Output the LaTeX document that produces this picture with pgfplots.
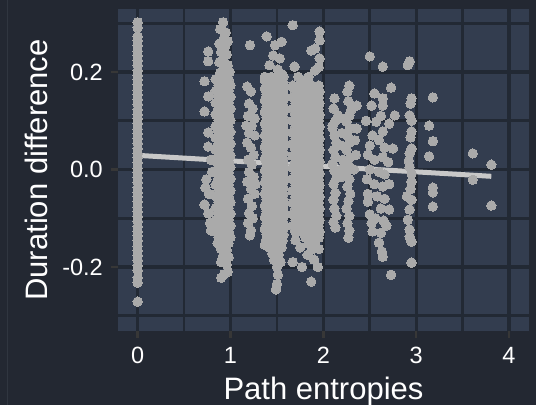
\documentclass[border=0pt]{standalone}
\usepackage{fontspec}
\setmainfont{Liberation Sans}
\usepackage{pgfplots}
\pgfplotsset{compat=1.18}
\usepackage{pgfplotstable}
\definecolor{bgc}{RGB}{35,40,50}
\definecolor{panelc}{RGB}{51,61,79}
\definecolor{gridc}{RGB}{34,41,52}
\definecolor{ptc}{RGB}{170,170,170}
\definecolor{linec}{RGB}{200,200,200}
\definecolor{tickc}{RGB}{55,55,55}
\definecolor{edgec}{RGB}{48,54,64}

\pgfplotstableread{
y a b c
0.185 0.84 0.91 0.98
0.173 0.87 0.94 1.00
0.161 0.84 0.91 0.98
0.149 0.87 0.94 1.00
0.137 0.84 0.91 0.98
0.125 0.87 0.94 1.00
0.113 0.84 0.91 0.98
0.101 0.87 0.94 1.00
0.089 0.84 0.91 0.98
0.077 0.87 0.94 1.00
0.065 0.84 0.91 0.98
0.053 0.87 0.94 1.00
0.041 0.84 0.91 0.98
0.029 0.87 0.94 1.00
0.017 0.84 0.91 0.98
0.005 0.87 0.94 1.00
-0.007 0.84 0.91 0.98
-0.019 0.87 0.94 1.00
-0.031 0.84 0.91 0.98
-0.043 0.87 0.94 1.00
-0.055 0.84 0.91 0.98
-0.067 0.87 0.94 1.00
-0.079 0.84 0.91 0.98
-0.091 0.87 0.94 1.00
-0.103 0.84 0.91 0.98
-0.115 0.87 0.94 1.00
-0.127 0.84 0.91 0.98
-0.139 0.87 0.94 1.00
-0.151 0.86 0.92 0.98
}\colone

\pgfplotstableread{
y a b c d
0.190 1.37 1.44 1.51 1.57
0.178 1.39 1.46 1.53 1.57
0.166 1.37 1.44 1.51 1.57
0.154 1.39 1.46 1.53 1.57
0.142 1.37 1.44 1.51 1.57
0.130 1.39 1.46 1.53 1.57
0.118 1.37 1.44 1.51 1.57
0.106 1.39 1.46 1.53 1.57
0.094 1.37 1.44 1.51 1.57
0.082 1.39 1.46 1.53 1.57
0.070 1.37 1.44 1.51 1.57
0.058 1.39 1.46 1.53 1.57
0.046 1.37 1.44 1.51 1.57
0.034 1.39 1.46 1.53 1.57
0.022 1.37 1.44 1.51 1.57
0.010 1.39 1.46 1.53 1.57
-0.002 1.37 1.44 1.51 1.57
-0.014 1.39 1.46 1.53 1.57
-0.026 1.37 1.44 1.51 1.57
-0.038 1.39 1.46 1.53 1.57
-0.050 1.37 1.44 1.51 1.57
-0.062 1.39 1.46 1.53 1.57
-0.074 1.37 1.44 1.51 1.57
-0.086 1.39 1.46 1.53 1.57
-0.098 1.37 1.44 1.51 1.57
-0.110 1.39 1.46 1.53 1.57
-0.122 1.37 1.44 1.51 1.57
-0.134 1.39 1.46 1.53 1.57
-0.146 1.38 1.44 1.50 1.56
}\cola

\pgfplotstableread{
y a b c d e
0.172 1.67 1.74 1.81 1.88 1.95
0.160 1.70 1.77 1.84 1.91 1.96
0.148 1.67 1.74 1.81 1.88 1.95
0.136 1.70 1.77 1.84 1.91 1.96
0.124 1.67 1.74 1.81 1.88 1.95
0.112 1.70 1.77 1.84 1.91 1.96
0.100 1.67 1.74 1.81 1.88 1.95
0.088 1.70 1.77 1.84 1.91 1.96
0.076 1.67 1.74 1.81 1.88 1.95
0.064 1.70 1.77 1.84 1.91 1.96
0.052 1.67 1.74 1.81 1.88 1.95
0.040 1.70 1.77 1.84 1.91 1.96
0.028 1.67 1.74 1.81 1.88 1.95
0.016 1.70 1.77 1.84 1.91 1.96
0.004 1.67 1.74 1.81 1.88 1.95
-0.008 1.70 1.77 1.84 1.91 1.96
-0.020 1.67 1.74 1.81 1.88 1.95
-0.032 1.70 1.77 1.84 1.91 1.96
-0.044 1.67 1.74 1.81 1.88 1.95
-0.056 1.70 1.77 1.84 1.91 1.96
-0.068 1.67 1.74 1.81 1.88 1.95
-0.080 1.70 1.77 1.84 1.91 1.96
-0.092 1.67 1.74 1.81 1.88 1.95
-0.104 1.70 1.77 1.84 1.91 1.96
-0.116 1.67 1.74 1.81 1.88 1.95
-0.128 1.70 1.77 1.84 1.91 1.96
}\colb

\pgfplotsset{pts/.style={only marks, mark=*, color=ptc, mark size=4.7bp, mark options={draw=ptc, fill=ptc, line width=0pt}}}

\begin{document}
\begin{tikzpicture}
\fill[bgc] (0,0) rectangle (536bp,405bp);
\draw[edgec, line width=0.8bp] (7bp,0) -- (7bp,405bp);
\begin{axis}[
  at={(118bp,74bp)}, anchor=south west,
  scale only axis, width=411bp, height=322bp,
  xmin=-0.212, xmax=4.216, ymin=-0.3313, ymax=0.3292,
  axis background/.style={fill=panelc},
  axis line style={draw=none},
  xtick={0,1,2,3,4}, xticklabels={0,1,2,3,4},
  ytick={-0.2,0,0.2}, yticklabels={-0.2,0.0,0.2},
  minor xtick={0.5,1.5,2.5,3.5}, minor ytick={-0.3,-0.1,0.1,0.3},
  grid=both,
  major grid style={draw=gridc, line width=3.2bp},
  minor grid style={draw=gridc, line width=2.6bp},
  tick align=outside, major tick length=7bp, minor tick length=0pt,
  tick style={draw=tickc, line width=2.6bp},
  xtick pos=bottom, ytick pos=left,
  /pgf/number format/assume math mode=true,
  xticklabel style={font=\fontsize{23.5bp}{28bp}\selectfont, text=white, inner sep=0pt, anchor=north, yshift=-9bp},
  yticklabel style={font=\fontsize{23.5bp}{28bp}\selectfont, text=white, inner sep=0pt, anchor=east, xshift=-8bp},
  xlabel={Path entropies},
  ylabel={Duration difference},
  every axis x label/.style={at={(axis description cs:0.5,-0.2112)}, anchor=base, inner sep=0pt, font=\fontsize{31bp}{36bp}\selectfont, text=white},
  every axis y label/.style={at={(axis description cs:-0.1727,0.5)}, rotate=90, anchor=base, inner sep=0pt, font=\fontsize{31bp}{36bp}\selectfont, text=white},
]
% x = 0 column
\addplot[pts] coordinates {
(0,0.302)(0,0.291)(0,0.273)(0,0.264)(0,0.254)(0,0.243)(0,0.233)(0,0.224)(0,0.214)(0,0.203)
(0,0.193)(0,0.184)(0,0.174)(0,0.163)(0,0.153)(0,0.144)(0,0.134)(0,0.123)(0,0.113)(0,0.104)
(0,0.094)(0,0.083)(0,0.073)(0,0.064)(0,0.054)(0,0.043)(0,0.033)(0,0.024)(0,0.014)(0,0.003)
(0,-0.007)(0,-0.016)(0,-0.026)(0,-0.037)(0,-0.047)(0,-0.056)(0,-0.066)(0,-0.077)(0,-0.087)(0,-0.096)
(0,-0.106)(0,-0.117)(0,-0.127)(0,-0.136)(0,-0.146)(0,-0.157)(0,-0.167)(0,-0.176)(0,-0.186)(0,-0.197)
(0,-0.207)(0,-0.222)(0,-0.232)(0,-0.271)
};
% column near 1
\addplot[pts] table[x=a,y=y]{\colone};
\addplot[pts] table[x=b,y=y]{\colone};
\addplot[pts] table[x=c,y=y]{\colone};
\addplot[pts] coordinates {
(0.92,0.302)(0.89,0.288)(0.95,0.281)(0.93,0.270)(0.97,0.263)(0.88,0.258)(0.94,0.251)(0.90,0.241)
(0.96,0.236)(0.92,0.228)(0.88,0.220)(0.97,0.214)(0.93,0.207)(0.99,0.200)(0.89,0.199)(0.95,0.192)
(0.76,0.242)(0.76,0.222)(0.72,0.181)(0.76,0.150)(0.72,0.119)(0.76,0.076)(0.76,0.047)
(0.90,-0.163)(0.96,-0.165)(0.92,-0.177)(0.98,-0.180)(0.90,-0.190)(0.96,-0.195)(0.97,-0.210)(0.90,-0.222)(0.93,-0.215)
(0.74,-0.020)(0.73,-0.037)(0.77,-0.050)(0.72,-0.072)(0.76,-0.090)(0.78,-0.110)(0.79,-0.125)(0.80,-0.005)(0.79,0.020)
};
% column near 1.2
\addplot[pts] coordinates {
(1.21,0.255)(1.18,0.170)(1.22,0.160)(1.20,0.135)(1.24,0.125)(1.19,0.110)(1.23,0.090)(1.20,0.075)
(1.26,0.070)(1.18,0.055)(1.22,0.045)(1.25,0.030)(1.19,0.020)(1.23,0.010)(1.20,-0.005)(1.25,-0.015)
(1.18,-0.025)(1.22,-0.040)(1.26,-0.050)(1.19,-0.060)(1.23,-0.075)(1.20,-0.090)(1.24,-0.100)(1.19,-0.110)
(1.22,-0.125)(1.21,-0.135)(1.26,0.105)(1.17,0.090)(1.27,-0.030)
};
% column near 1.45
\addplot[pts] table[x=a,y=y]{\cola};
\addplot[pts] table[x=b,y=y]{\cola};
\addplot[pts] table[x=c,y=y]{\cola};
\addplot[pts] table[x=d,y=y]{\cola};
\addplot[pts] coordinates {
(1.39,0.273)(1.48,0.255)(1.55,0.262)(1.46,0.234)(1.53,0.228)(1.42,0.214)(1.37,0.183)(1.51,0.205)(1.56,0.195)
(1.42,-0.160)(1.49,-0.158)(1.55,-0.160)(1.37,-0.155)(1.45,-0.172)(1.52,-0.175)(1.47,-0.186)(1.54,-0.190)
(1.50,-0.200)(1.51,-0.216)(1.50,-0.235)(1.49,-0.246)
};
% column near 1.8
\addplot[pts] table[x=a,y=y]{\colb};
\addplot[pts] table[x=b,y=y]{\colb};
\addplot[pts] table[x=c,y=y]{\colb};
\addplot[pts] table[x=d,y=y]{\colb};
\addplot[pts] table[x=e,y=y]{\colb};
\addplot[pts] coordinates {
(1.67,0.296)(1.96,0.283)(1.96,0.265)(1.91,0.248)(1.87,0.244)(1.96,0.228)(1.69,0.211)(1.91,0.203)
(1.78,0.183)(1.67,0.170)(1.84,0.190)(1.95,0.210)(1.73,0.190)
(1.81,-0.140)(1.88,-0.140)(1.95,-0.140)(1.84,-0.152)(1.91,-0.152)(1.95,-0.163)(1.88,-0.164)
(1.67,-0.190)(1.77,-0.200)(1.94,-0.200)(1.87,-0.230)(1.83,-0.175)(1.90,-0.185)(1.70,-0.145)(1.75,-0.160)
};
% column near 2.2
\addplot[pts] coordinates {
(2.28,0.172)(2.26,0.160)(2.12,0.146)(2.36,0.131)(2.16,0.111)(2.28,0.110)(2.10,0.090)(2.36,0.084)
(2.11,0.125)(2.13,0.100)(2.10,0.085)(2.12,0.070)(2.14,0.055)(2.11,0.040)(2.13,0.025)(2.10,0.012)
(2.12,-0.003)(2.14,-0.018)(2.11,-0.030)(2.13,-0.048)(2.11,-0.062)(2.12,-0.080)(2.14,-0.095)(2.11,-0.108)(2.13,-0.119)
(2.27,0.140)(2.30,0.122)(2.25,0.098)(2.29,0.085)(2.26,0.070)(2.28,0.055)(2.25,0.040)(2.29,0.025)
(2.27,0.010)(2.25,-0.005)(2.28,-0.020)(2.26,-0.035)(2.29,-0.050)(2.27,-0.065)(2.25,-0.080)(2.28,-0.095)
(2.26,-0.110)(2.28,-0.125)(2.27,-0.140)
(2.19,0.105)(2.20,0.075)(2.18,0.050)(2.21,0.020)(2.19,0.000)(2.20,-0.015)(2.34,0.060)(2.35,0.030)(2.33,0.000)
};
% column near 2.6
\addplot[pts] coordinates {
(2.50,0.232)(2.64,0.211)(2.73,0.168)(2.55,0.156)(2.64,0.146)(2.52,0.131)(2.64,0.131)(2.46,0.100)
(2.57,0.098)(2.62,0.110)(2.77,0.111)(2.71,0.094)(2.53,0.070)(2.64,0.078)(2.50,0.049)(2.75,0.043)
(2.60,0.060)(2.66,0.045)(2.64,0.025)(2.48,0.030)(2.55,0.020)(2.70,0.015)(2.50,0.000)(2.60,-0.005)
(2.66,-0.010)(2.47,-0.020)(2.55,-0.030)(2.64,-0.035)(2.71,-0.030)(2.48,-0.050)(2.58,-0.055)(2.66,-0.060)
(2.48,-0.066)(2.50,-0.092)(2.62,-0.080)(2.71,-0.082)(2.56,-0.100)(2.65,-0.105)(2.53,-0.127)(2.62,-0.130)
(2.63,-0.168)(2.64,-0.179)(2.73,-0.216)(2.60,-0.150)(2.52,-0.110)(2.68,-0.115)
};
% column near 2.93
\addplot[pts] coordinates {
(2.93,0.222)(2.91,0.214)(2.95,0.146)(2.94,0.135)(2.93,0.111)(2.95,0.100)(2.95,0.078)(2.94,0.066)
(2.95,0.043)(2.93,0.033)(2.92,0.018)(2.93,0.005)(2.95,-0.008)(2.95,-0.025)(2.90,-0.055)(2.95,-0.062)
(2.93,-0.082)(2.91,-0.103)(2.93,-0.123)(2.93,-0.138)(2.95,-0.148)(2.95,-0.191)(2.94,-0.040)
};
% sparse right points
\addplot[pts] coordinates {
(3.18,0.148)(3.14,0.090)(3.18,0.058)(3.14,0.027)(3.18,-0.037)(3.18,-0.047)(3.18,-0.076)
(3.61,0.033)(3.81,0.010)(3.61,-0.021)(3.81,-0.074)
};
% fitted line
\addplot[linec, line width=5bp, no marks] coordinates {(0,0.029)(3.81,-0.014)};
\end{axis}
\pgfresetboundingbox
\useasboundingbox (0,0) rectangle (536bp,405bp);
\end{tikzpicture}
\end{document}
